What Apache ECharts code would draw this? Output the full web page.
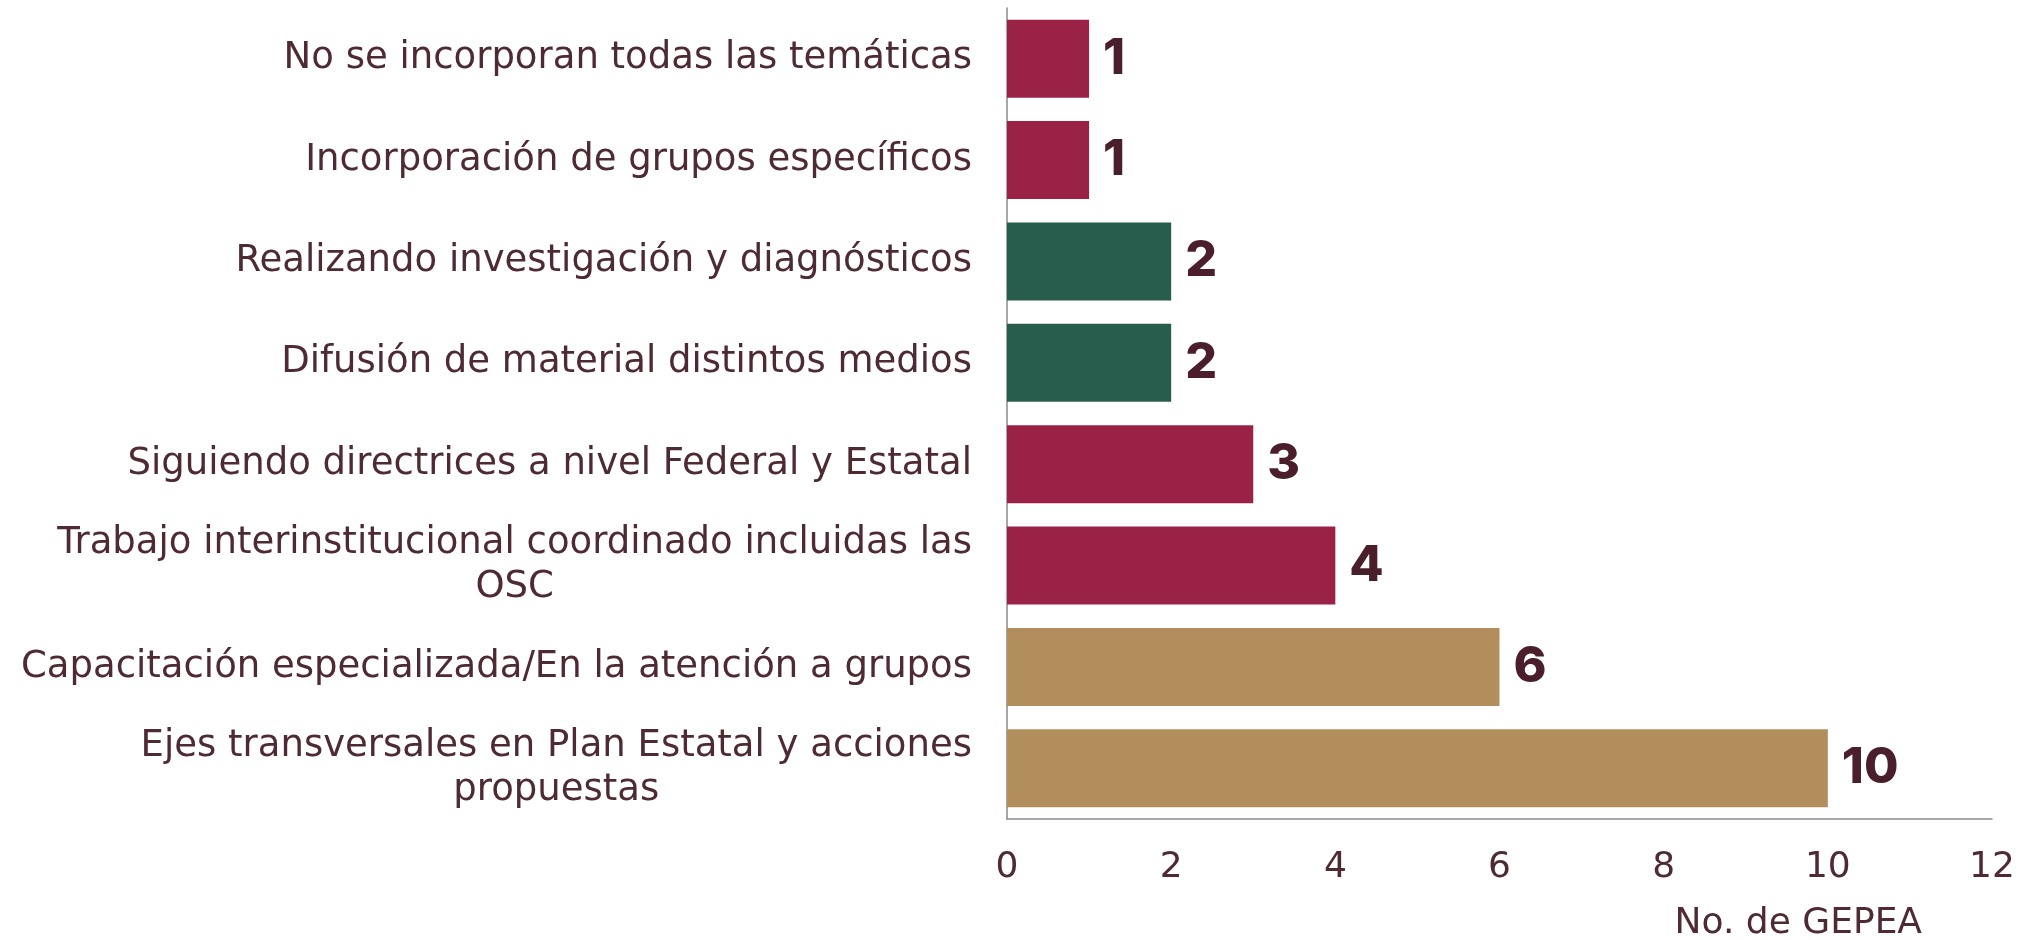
<!DOCTYPE html>
<html>
<head>
<meta charset="utf-8">
<script src="https://cdn.jsdelivr.net/npm/echarts@6/dist/echarts.min.js"></script>
<style>
html,body{margin:0;padding:0;background:#fff;}
#chart{width:2034px;height:940px;}
</style>
</head>
<body>
<div id="chart"></div>
<script>
// Data (top to bottom as shown)
const categories = [
  'No se incorporan todas las temáticas',
  'Incorporación de grupos específicos',
  'Realizando investigación y diagnósticos',
  'Difusión de material distintos medios',
  'Siguiendo directrices a nivel Federal y Estatal',
  'Trabajo interinstitucional coordinado incluidas las\nOSC',
  'Capacitación especializada/En la atención a grupos',
  'Ejes transversales en Plan Estatal y acciones\npropuestas'
];
const values = [1, 1, 2, 2, 3, 4, 6, 10];
const xTicks = [0, 2, 4, 6, 8, 10, 12];
const axisTitle = 'No. de GEPEA';

// Styles
const barColors = ['#9B2247', '#9B2247', '#285C4D', '#285C4D', '#9B2247', '#9B2247', '#B38E5D', '#B38E5D'];
const FONT = '"DejaVu Sans", sans-serif';
const BOLD_FONT = 'Inter, sans-serif';
const TEXT = '#4E2A33';

const chart = echarts.init(document.getElementById('chart'), null, {renderer: 'canvas'});
chart.setOption({
  backgroundColor: '#ffffff',
  animation: false,
  title: {
    text: axisTitle,
    right: 112,
    top: 903,
    textStyle: {color: TEXT, fontFamily: FONT, fontSize: 36, fontWeight: 'normal', lineHeight: 42},
    padding: 0
  },
  grid: {left: 1007, right: 42, top: 8, bottom: 121, containLabel: false},
  xAxis: {
    type: 'value',
    min: xTicks[0],
    max: xTicks[xTicks.length - 1],
    interval: xTicks[1] - xTicks[0],
    axisLine: {show: true, lineStyle: {color: '#8a8a8a', width: 1.5}},
    axisTick: {show: false},
    splitLine: {show: false},
    axisLabel: {color: TEXT, fontFamily: FONT, fontSize: 36, margin: 31}
  },
  yAxis: {
    type: 'category',
    data: categories,
    inverse: true,
    axisLine: {show: true, lineStyle: {color: '#8a8a8a', width: 1.5}},
    axisTick: {show: false},
    axisLabel: {
      color: TEXT,
      fontFamily: FONT,
      fontSize: 37,
      margin: 35,
      align: 'right',
      lineHeight: 44,
      formatter: function (v) {
        return v.split('\n').map(function (l) { return '{c|' + l + '}'; }).join('\n');
      },
      rich: {c: {align: 'center', color: TEXT, fontFamily: FONT, fontSize: 37, lineHeight: 44}}
    }
  },
  series: [{
    type: 'bar',
    data: values.map(function (v, i) { return {value: v, itemStyle: {color: barColors[i]}}; }),
    barCategoryGap: '23%',
    label: {
      show: true,
      position: 'right',
      distance: 14,
      color: '#4A1E2B',
      fontFamily: BOLD_FONT,
      fontWeight: 800,
      fontSize: 50
    }
  }]
});
</script>
</body>
</html>
